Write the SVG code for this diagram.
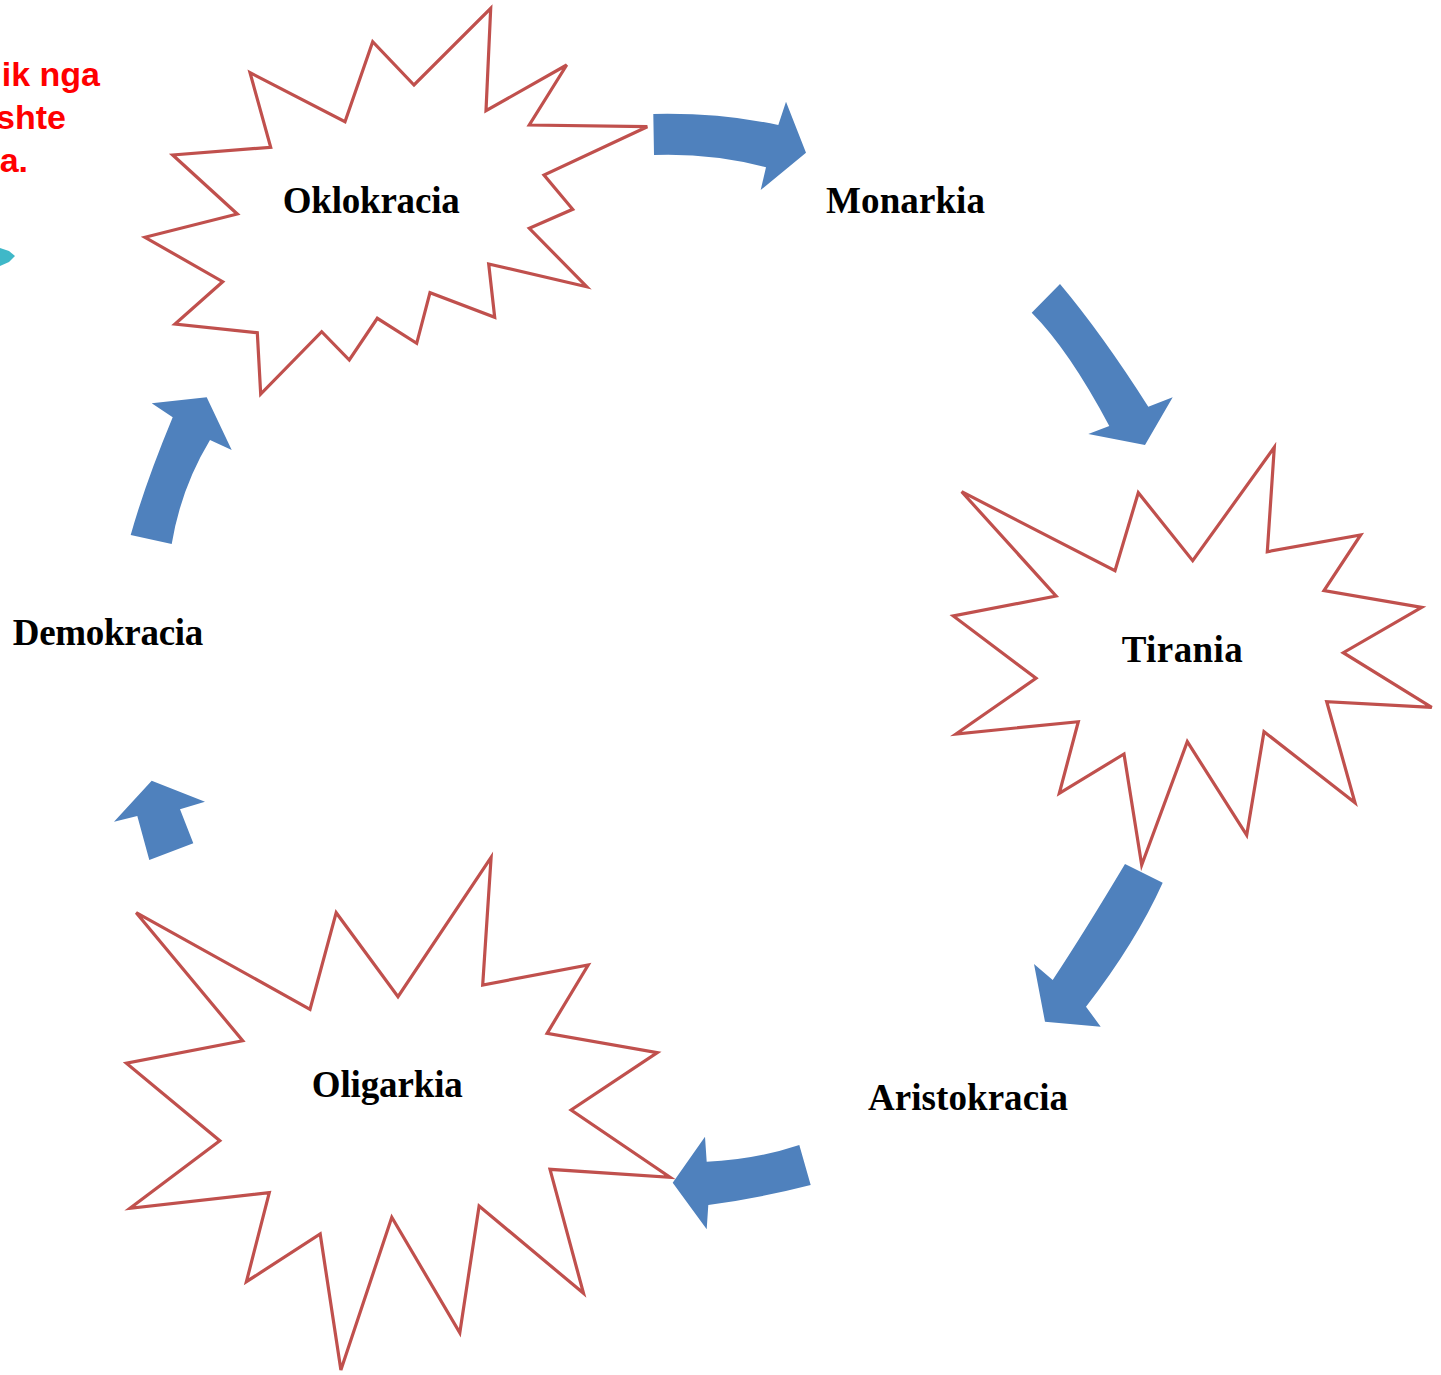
<svg xmlns="http://www.w3.org/2000/svg" width="1441" height="1375" viewBox="0 0 1441 1375">
<style>
.burst{fill:#ffffff;stroke:#C0504D;stroke-width:3.2;stroke-linejoin:miter}
.arrow{fill:#4F81BD;stroke:none}
.lbl{font-family:"Liberation Serif","Times New Roman",serif;font-weight:bold;font-size:37px;fill:#000000}
.red{font-family:"Liberation Sans",Arial,sans-serif;font-weight:bold;font-size:34px;fill:#FF0000}
</style>
<rect x="0" y="0" width="1441" height="1375" fill="#ffffff"/>
<g id="note">
<text class="red" x="100" y="86" text-anchor="end">ik nga</text>
<text class="red" x="66" y="129" text-anchor="end">shte</text>
<text class="red" x="28" y="172" text-anchor="end">a.</text>
<polygon points="0,248 9,251 15,256 9,262 0,266" fill="#3FB8C8"/>
</g>
<g id="node-oklokracia">
<polygon class="burst" points="490.7,8.3 486,110.7 566.7,65 529.3,125 647.3,126.7 544,175 572.7,209.3 529.3,228.3 586.7,286.7 488.7,264 494.7,317.3 430,292.7 416.7,343.3 377.3,318.3 349.3,360 321.7,331.7 260.7,394 257.3,332.7 175,324 222.7,281.7 145,237.3 237.3,214 172.7,155 270.7,147.3 250,72.7 345,121.7 372.7,41.7 414,85"/>
<text class="lbl" x="282.7" y="213.3" textLength="177" lengthAdjust="spacing">Oklokracia</text>
</g>
<g id="node-monarkia">
<text class="lbl" x="826" y="213.3" textLength="159" lengthAdjust="spacing">Monarkia</text>
</g>
<g id="node-tirania">
<polygon class="burst" points="1274.3,447.3 1267.3,551.7 1360.7,535 1324,590.7 1421.7,607.3 1343.3,652.7 1431.7,707.3 1326.7,701.7 1355,802.7 1264,731.7 1246.7,835 1187.3,741.7 1141.7,865 1124,754 1059.3,793.3 1078.3,721.7 956,734 1036,678.3 953.3,616 1056,596 961.7,491.7 1115,570.7 1138.3,492.7 1192.7,560.7"/>
<text class="lbl" x="1121.7" y="661.7" textLength="121" lengthAdjust="spacing">Tirania</text>
</g>
<g id="node-aristokracia">
<text class="lbl" x="868" y="1110" textLength="200" lengthAdjust="spacing">Aristokracia</text>
</g>
<g id="node-oligarkia">
<polygon class="burst" points="491.1,857.3 482.7,985 588.2,965 547.1,1033.3 657.3,1052.7 571.1,1110 670,1177.3 550,1169.3 583.5,1293.3 479.1,1206 459.8,1332.7 391.8,1217.3 340.9,1370 320.2,1234 246.4,1281.7 269.3,1192.7 130,1208.3 219.8,1140.7 126.4,1063.3 242.7,1040.7 136.2,912.7 310,1009.3 336.2,912.7 398,996.7"/>
<text class="lbl" x="311.8" y="1097.3" textLength="151" lengthAdjust="spacing">Oligarkia</text>
</g>
<g id="node-demokracia">
<text class="lbl" x="12.7" y="645" textLength="190.6" lengthAdjust="spacing">Demokracia</text>
</g>
<g id="connectors">
<path class="arrow" d="M653.3,114 Q720,112.5 778.3,125 L786,101.7 L806,152.7 L760.7,190 L766,167.3 Q712,153 654,155 Z"/>
<path class="arrow" d="M1060,284 Q1102,334 1148.3,406.7 L1172.7,397.3 L1145,445 L1088.3,434 L1109.3,426 Q1069,350 1031.7,312.7 Z"/>
<path class="arrow" d="M1125,864 L1162.7,882.7 Q1136,942 1086,1006.7 L1100.7,1026.7 L1045,1021.7 L1034,964 L1052.7,980 Q1085,931 1125,864 Z"/>
<path class="arrow" d="M799.3,1145 Q754,1160 706.7,1161.7 L705,1136.7 L672.7,1182.7 L706.7,1229.3 L708.3,1205 Q760,1198 810.7,1185 Z"/>
<polygon class="arrow" points="149.3,860 193.3,843.3 180,809.3 205,801.7 151.7,780.7 114,821.7 137.3,816"/>
<path class="arrow" d="M171.7,544 Q181,488 210,440 L231.7,450 L206.7,397.3 L151.7,403.3 L172.7,417.3 Q145,484 130.7,535 Z"/>
</g>
</svg>
